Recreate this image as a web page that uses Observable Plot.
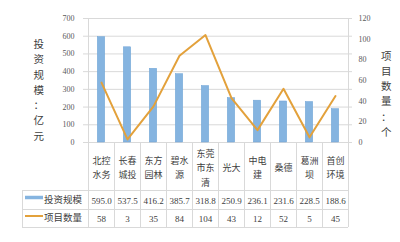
<!DOCTYPE html>
<html><head><meta charset="utf-8">
<script src="https://cdn.jsdelivr.net/npm/d3@7"></script>
<script src="https://cdn.jsdelivr.net/npm/@observablehq/plot@0.6"></script>
<style>body{margin:0;background:#fff}svg{display:block}</style>
</head><body><div id="chart"></div>
<script>
const categories = ["北控\n水务","长春\n城投","东方\n园林","碧水\n源","东莞\n市东\n清","光大","中电\n建","桑德","葛洲\n坝","首创\n环境"];
const investment = [595.0,537.5,416.2,385.7,318.8,250.9,236.1,231.6,228.5,188.6];
const projects = [58,3,35,84,104,43,12,52,5,45];
const leftTicks = [0,100,200,300,400,500,600,700];
const rightTicks = [0,20,40,60,80,100,120];
const seriesNames = ["投资规模","项目数量"];
const leftTitle = "投资规模：亿元";
const rightTitle = "项目数量：个";

const k = 700 / 120;
const data = categories.map((c, i) => ({c, inv: investment[i], n: projects[i]}));
const BAR = "#85B4E0", LINE = "#E3A13B", GRID = "#D9D9D9";
const CJK = "'Noto Sans CJK SC', sans-serif";
const NUM = "'Liberation Serif', serif";

const plot = Plot.plot({
  width: 400, height: 242,
  marginLeft: 83, marginRight: 48, marginTop: 18, marginBottom: 100,
  style: {background: "#fff", overflow: "visible"},
  x: {domain: categories, padding: 0, axis: null},
  y: {domain: [0, 700], axis: null},
  marks: [
    Plot.gridY(leftTicks, {stroke: GRID, strokeOpacity: 1}),
    Plot.barY(data, {x: "c", y: "inv", fill: BAR, stroke: "#6FA3D6", strokeWidth: 0.5, insetLeft: 9.3, insetRight: 9.3}),
    Plot.lineY(data, {x: "c", y: d => d.n * k, stroke: LINE, strokeWidth: 2, curve: "linear"}),
    Plot.axisY(leftTicks, {anchor: "left", label: null, tickSize: 0, tickPadding: 9, fontSize: 8, fontFamily: NUM, fill: "#595959"}),
    Plot.axisY(rightTicks.map(v => v * k), {anchor: "right", label: null, tickSize: 0, tickPadding: 6, fontSize: 8, fontFamily: NUM, fill: "#595959", tickFormat: d => Math.round(d / k)}),
    Plot.text(data, {x: "c", y: 0, dy: 24, text: "c", lineAnchor: "middle", lineHeight: 1.6, fontSize: 9, fontFamily: CJK, fill: "#404040"}),
    Plot.text(data, {x: "c", y: 0, dy: 59, text: d => d.inv.toFixed(1), fontSize: 9, fontFamily: NUM, fill: "#404040"}),
    Plot.text(data, {x: "c", y: 0, dy: 77, text: d => String(d.n), fontSize: 9, fontFamily: NUM, fill: "#404040"}),
    Plot.text([leftTitle], {frameAnchor: "left", dx: -50, dy: 8.5, text: d => [...d].join("\n"), lineAnchor: "middle", lineHeight: 1.45, fontSize: 10.5, fontFamily: CJK, fill: "#404040"}),
    Plot.text([rightTitle], {frameAnchor: "right", dx: 39, dy: 12.5, text: d => [...d].join("\n"), lineAnchor: "middle", lineHeight: 1.45, fontSize: 10.5, fontFamily: CJK, fill: "#404040"})
  ]
});

// data table grid drawn from the plot's own scales
const svg = d3.select(plot);
const xs = plot.scale("x"), ys = plot.scale("y");
const bw = xs.bandwidth;
const y0 = ys.apply(0), yTop = ys.apply(700);
const xL = xs.apply(categories[0]), xR = xs.apply(categories[categories.length - 1]) + bw;
const tableLeft = 22, rowTop = y0 + 48, rowMid = y0 + 67, rowBot = y0 + 85;
const g = svg.insert("g", ":first-child").attr("stroke", GRID).attr("stroke-width", 1).attr("shape-rendering", "crispEdges");
[rowTop, rowMid, rowBot].forEach(y => g.append("line").attr("x1", tableLeft).attr("x2", xR).attr("y1", y).attr("y2", y));
g.append("line").attr("x1", xL).attr("x2", xR).attr("y1", y0).attr("y2", y0);
g.append("line").attr("x1", tableLeft).attr("x2", tableLeft).attr("y1", rowTop).attr("y2", rowBot);
categories.forEach((c, i) => {
  const x = xs.apply(c);
  g.append("line").attr("x1", x).attr("x2", x).attr("y1", i === 0 ? yTop : y0).attr("y2", rowBot);
});
g.append("line").attr("x1", xR).attr("x2", xR).attr("y1", yTop).attr("y2", rowBot);

// legend keys in the data table
const lg = svg.append("g").attr("text-anchor", "start");
[[BAR, rowTop + 9.5], [LINE, rowMid + 9]].forEach(([col, y], i) => {
  lg.append("line").attr("x1", 25).attr("x2", 43).attr("y1", y - 2).attr("y2", y - 2).attr("stroke", col).attr("stroke-width", i === 0 ? 3.5 : 2);
  lg.append("text").attr("x", 44).attr("y", y).attr("dy", "0.32em").attr("font-size", 9.5).attr("font-family", CJK).attr("fill", "#404040").text(seriesNames[i]);
});

document.getElementById("chart").appendChild(plot);
</script></body></html>
